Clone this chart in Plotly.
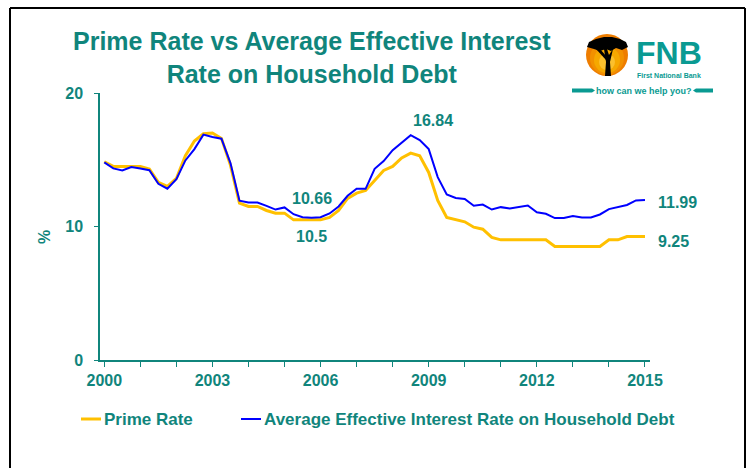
import plotly.graph_objects as go

# Quarterly observations, 2000Q1 .. 2015Q1
quarters = [f"{y}Q{q}" for y in range(2000, 2016) for q in range(1, 5)][:61]

prime_rate = [
    14.85, 14.5, 14.5, 14.5, 14.5, 14.3, 13.3, 13.0,
    13.6, 15.3, 16.4, 16.95, 17.0, 16.6, 14.6, 11.75,
    11.5, 11.5, 11.2, 11.0, 11.0, 10.5, 10.5, 10.5,
    10.5, 10.68, 11.2, 12.1, 12.5, 12.7, 13.45, 14.2,
    14.5, 15.13, 15.5, 15.3, 14.05, 11.95, 10.68, 10.5,
    10.35, 9.95, 9.8, 9.18, 9.0, 9.0, 9.0, 9.0,
    9.0, 9.0, 8.5, 8.5, 8.5, 8.5, 8.5, 8.5,
    9.0, 9.0, 9.25, 9.25, 9.25,
]

household_rate = [
    14.8, 14.35, 14.2, 14.45, 14.35, 14.22, 13.2, 12.83,
    13.55, 14.95, 15.8, 16.88, 16.7, 16.58, 14.75, 11.93,
    11.8, 11.8, 11.55, 11.27, 11.43, 10.92, 10.7, 10.66,
    10.7, 10.98, 11.5, 12.3, 12.83, 12.82, 14.32, 14.9,
    15.72, 16.28, 16.84, 16.47, 15.8, 13.7, 12.4, 12.14,
    12.06, 11.55, 11.64, 11.27, 11.45, 11.34, 11.45, 11.57,
    11.07, 10.95, 10.63, 10.63, 10.79, 10.68, 10.68, 10.9,
    11.3, 11.45, 11.61, 11.95, 11.99,
]

series_names = ["Prime Rate", "Average Effective Interest Rate on Household Debt"]
series_colors = ["#FFC000", "#0000FF"]
series_widths = [3, 2]

year_ticks = list(range(2000, 2016))
year_labels = [str(y) if (y - 2000) % 3 == 0 else "" for y in year_ticks]
y_ticks = [0, 10, 20]

TEAL = "#10857C"
FONT = "Liberation Sans, Arial, sans-serif"


def to_year(q):
    return int(q[:4]) + (int(q[-1]) - 1) * 0.25


x = [to_year(q) for q in quarters]

# plot-area pixel frame helpers (plot area spans x 100..650, y 93..360)
L, R, T, B = 100, 650, 93, 360


def PX(px):
    return (px - L) / (R - L)


def PY(py):
    return (B - py) / (B - T)


fig = go.Figure()
for vals, name, col, w in zip([prime_rate, household_rate], series_names, series_colors, series_widths):
    fig.add_trace(go.Scatter(x=x, y=vals, mode="lines", name=name,
                             line=dict(color=col, width=w), showlegend=False,
                             hoverinfo="skip"))

fig.update_layout(
    width=752, height=468,
    margin=dict(l=L, r=752 - R, t=T, b=468 - B),
    paper_bgcolor="white", plot_bgcolor="white",
    xaxis=dict(range=[1999.881, 2015.139], showgrid=False, zeroline=False,
               showline=True, linecolor=TEAL, linewidth=1.5,
               ticks="outside", ticklen=5, tickcolor=TEAL,
               tickvals=year_ticks, ticktext=year_labels,
               tickfont=dict(family=FONT, size=16, color=TEAL, weight="bold")),
    yaxis=dict(range=[0, 20], showgrid=False, zeroline=False,
               showline=True, linecolor=TEAL, linewidth=1.5,
               ticks="outside", ticklen=4, tickcolor=TEAL,
               tickvals=y_ticks, ticklabelstandoff=8,
               tickfont=dict(family=FONT, size=16, color=TEAL, weight="bold")),
)

ann = []
lbl_font = dict(family=FONT, size=16, color=TEAL, weight="bold")
# value call-outs
ann.append(dict(x=x[34], y=household_rate[34], text=f"{household_rate[34]:.2f}", showarrow=False,
                xanchor="left", yanchor="middle", yshift=15, font=lbl_font))
ann.append(dict(x=x[23], y=household_rate[23], text=f"{household_rate[23]:.2f}", showarrow=False,
                xanchor="center", yanchor="middle", yshift=19, font=lbl_font))
ann.append(dict(x=x[23], y=prime_rate[23], text=f"{prime_rate[23]:g}", showarrow=False,
                xanchor="center", yanchor="middle", yshift=-17, font=lbl_font))
ann.append(dict(x=x[-1], y=household_rate[-1], text=f"{household_rate[-1]:.2f}", showarrow=False,
                xanchor="left", yanchor="middle", xshift=11, yshift=-3, font=lbl_font))
ann.append(dict(x=x[-1], y=prime_rate[-1], text=f"{prime_rate[-1]:.2f}", showarrow=False,
                xanchor="left", yanchor="middle", xshift=11, yshift=-5, font=lbl_font))

# axis title
ann.append(dict(xref="paper", yref="paper", x=PX(44), y=PY(237), text="%", textangle=-90,
                showarrow=False, xanchor="center", yanchor="middle", font=lbl_font))

# chart title
ann.append(dict(xref="paper", yref="paper", x=PX(312), y=PY(58), text="Prime Rate vs Average Effective Interest<br>Rate on Household Debt",
                showarrow=False, xanchor="center", yanchor="middle",
                font=dict(family=FONT, size=25, color=TEAL, weight="bold")))

# legend
shapes = []
legend_items = [(81, 101, 102), (241, 261, 262)]
for (x0, x1, tx), name, col, w in zip(legend_items, series_names, series_colors, series_widths):
    shapes.append(dict(type="line", xref="paper", yref="paper", x0=PX(x0), x1=PX(x1), y0=PY(419), y1=PY(419),
                       line=dict(color=col, width=w)))
    ann.append(dict(xref="paper", yref="paper", x=PX(tx), y=PY(419), text=name, showarrow=False,
                    xanchor="left", yanchor="middle", font=dict(family=FONT, size=17, color=TEAL, weight="bold")))

# outer frame
for (x0, y0, x1, y1) in [(10, 8, 10, 470), (10, 8, 745, 8), (745, 8, 745, 470)]:
    shapes.append(dict(type="line", xref="paper", yref="paper", x0=PX(x0), x1=PX(x1), y0=PY(y0), y1=PY(y1),
                       line=dict(color="black", width=2)))

# FNB logo: sun disc with acacia silhouette
cx, cy, r = 607, 55, 21
disc = [("#EE7D00", 0, 0, 21), ("#F29100", 0, 3, 17), ("#F6A800", 0, 5, 13), ("#FBC02D", 0, 7, 8)]
for col, dx, dy, rr in disc:
    shapes.append(dict(type="circle", xref="paper", yref="paper",
                       x0=PX(cx + dx - rr), x1=PX(cx + dx + rr), y0=PY(cy + dy + rr), y1=PY(cy + dy - rr),
                       fillcolor=col, line=dict(width=0)))


def path(points):
    return "M " + " L ".join(f"{PX(a):.5f},{PY(b):.5f}" for a, b in points) + " Z"


canopy = [(587, 47), (589, 42), (596, 39), (604, 37), (612, 37), (620, 39), (626, 42), (628, 47),
          (622, 50), (616, 48), (611, 51), (606, 49), (600, 51), (594, 49)]
trunk = [(604, 49), (606, 62), (605, 76), (611, 76), (610, 62), (613, 49), (609, 55), (607, 49)]
branch = [(596, 49), (606, 60), (607, 57), (600, 49)]
for pts in (canopy, trunk, branch):
    shapes.append(dict(type="path", xref="paper", yref="paper", path=path(pts),
                       fillcolor="black", line=dict(width=0)))

LOGO_TEAL = "#0A9A92"
ann.append(dict(xref="paper", yref="paper", x=PX(669), y=PY(53), text="FNB", showarrow=False,
                xanchor="center", yanchor="middle",
                font=dict(family=FONT, size=32, color=LOGO_TEAL, weight="bold")))
ann.append(dict(xref="paper", yref="paper", x=PX(669), y=PY(75), text="First National Bank", showarrow=False,
                xanchor="center", yanchor="middle",
                font=dict(family=FONT, size=7, color=LOGO_TEAL, weight="bold")))
ann.append(dict(xref="paper", yref="paper", x=PX(644), y=PY(90.5), text="how can we help you?", showarrow=False,
                xanchor="center", yanchor="middle",
                font=dict(family=FONT, size=9, color=LOGO_TEAL, weight="bold")))
for pts in ([(572, 88.5), (592, 88.5), (595, 90.5), (592, 92.5), (572, 92.5)],
            [(693, 90.5), (696, 88.5), (713, 88.5), (713, 92.5), (696, 92.5)]):
    shapes.append(dict(type="path", xref="paper", yref="paper", path=path(pts),
                       fillcolor=LOGO_TEAL, line=dict(width=0)))

fig.update_layout(annotations=ann, shapes=shapes)
fig.write_html("out.html")
